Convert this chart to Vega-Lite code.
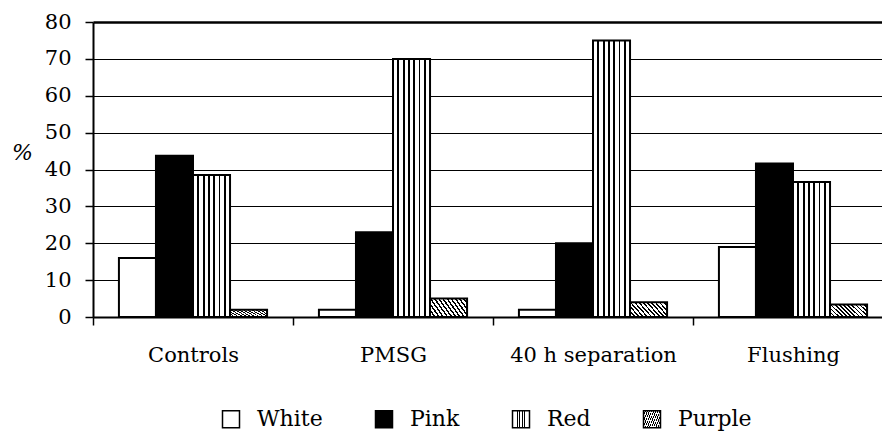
{
  "$schema": "https://vega.github.io/schema/vega-lite/v6.json",
  "width": 789,
  "height": 295,
  "autosize": {"type": "none"},
  "padding": {"left": 93, "top": 22, "right": 0, "bottom": 119},
  "background": "white",
  "config": {
    "view": {"stroke": null},
    "font": "DejaVu Serif"
  },
  "data": {
    "values": [
      {"group": "Controls", "color": "White", "pct": 16},
      {"group": "Controls", "color": "Pink", "pct": 43.7},
      {"group": "Controls", "color": "Red", "pct": 38.5},
      {"group": "Controls", "color": "Purple", "pct": 2},
      {"group": "PMSG", "color": "White", "pct": 2},
      {"group": "PMSG", "color": "Pink", "pct": 23},
      {"group": "PMSG", "color": "Red", "pct": 70},
      {"group": "PMSG", "color": "Purple", "pct": 5},
      {"group": "40 h separation", "color": "White", "pct": 2},
      {"group": "40 h separation", "color": "Pink", "pct": 20},
      {"group": "40 h separation", "color": "Red", "pct": 75},
      {"group": "40 h separation", "color": "Purple", "pct": 4},
      {"group": "Flushing", "color": "White", "pct": 19},
      {"group": "Flushing", "color": "Pink", "pct": 41.6},
      {"group": "Flushing", "color": "Red", "pct": 36.6},
      {"group": "Flushing", "color": "Purple", "pct": 3.4}
    ]
  },
  "mark": {"type": "bar", "stroke": "black", "strokeWidth": 2},
  "encoding": {
    "x": {
      "field": "group",
      "type": "nominal",
      "sort": ["Controls", "PMSG", "40 h separation", "Flushing"],
      "scale": {"range": [0, 800], "paddingInner": 0, "paddingOuter": 0},
      "axis": {
        "title": null,
        "labelAngle": 0,
        "labelFont": "DejaVu Serif",
        "labelFontSize": 21,
        "labelColor": "black",
        "labelPadding": 19,
        "tickBand": "extent",
        "tickSize": 8,
        "tickColor": "black",
        "tickWidth": 1.5,
        "domainColor": "black",
        "domainWidth": 2,
        "grid": false
      }
    },
    "xOffset": {
      "field": "color",
      "type": "nominal",
      "sort": ["White", "Pink", "Red", "Purple"],
      "scale": {"paddingInner": 0, "paddingOuter": 0.7}
    },
    "y": {
      "field": "pct",
      "type": "quantitative",
      "scale": {"domain": [0, 80], "nice": false},
      "axis": {
        "title": "%",
        "titleFont": "DejaVu Serif",
        "titleAngle": 0,
        "titleFontStyle": "italic",
        "titleFontWeight": "normal",
        "titleFontSize": 22,
        "titleColor": "black",
        "titleX": -71,
        "titleY": 130,
        "titleAlign": "center",
        "titleBaseline": "middle",
        "values": [0, 10, 20, 30, 40, 50, 60, 70, 80],
        "labelFont": "DejaVu Serif",
        "labelFontSize": 21,
        "labelColor": "black",
        "labelPadding": 14,
        "tickSize": 8,
        "tickColor": "black",
        "tickWidth": 1.5,
        "domainColor": "black",
        "domainWidth": 2,
        "grid": true,
        "gridColor": "black",
        "gridOpacity": 1,
        "gridWidth": {"condition": {"test": "datum.value == 80", "value": 2.5}, "value": 1.2}
      }
    },
    "fill": {
      "field": "color",
      "type": "nominal",
      "sort": ["White", "Pink", "Red", "Purple"],
      "scale": {
        "domain": ["White", "Pink", "Red", "Purple"],
        "range": [
          "white",
          "black",
          {"expr": "{gradient: 'linear', x1: 0, y1: 0, x2: 1, y2: 0, stops: [{offset: 0, color: 'white'}, {offset: 0.118, color: 'white'}, {offset: 0.118, color: 'black'}, {offset: 0.168, color: 'black'}, {offset: 0.168, color: 'white'}, {offset: 0.261, color: 'white'}, {offset: 0.261, color: 'black'}, {offset: 0.311, color: 'black'}, {offset: 0.311, color: 'white'}, {offset: 0.404, color: 'white'}, {offset: 0.404, color: 'black'}, {offset: 0.454, color: 'black'}, {offset: 0.454, color: 'white'}, {offset: 0.546, color: 'white'}, {offset: 0.546, color: 'black'}, {offset: 0.596, color: 'black'}, {offset: 0.596, color: 'white'}, {offset: 0.689, color: 'white'}, {offset: 0.689, color: 'black'}, {offset: 0.739, color: 'black'}, {offset: 0.739, color: 'white'}, {offset: 0.832, color: 'white'}, {offset: 0.832, color: 'black'}, {offset: 0.882, color: 'black'}, {offset: 0.882, color: 'white'}, {offset: 1, color: 'white'}]}"},
          {"expr": "{gradient: 'linear', x1: 0, y1: 1, x2: 1.2, y2: 0.58, stops: [{offset: 0, color: 'black'}, {offset: 0.035, color: 'black'}, {offset: 0.035, color: 'white'}, {offset: 0.0833, color: 'white'}, {offset: 0.0833, color: 'black'}, {offset: 0.1183, color: 'black'}, {offset: 0.1183, color: 'white'}, {offset: 0.1667, color: 'white'}, {offset: 0.1667, color: 'black'}, {offset: 0.2017, color: 'black'}, {offset: 0.2017, color: 'white'}, {offset: 0.25, color: 'white'}, {offset: 0.25, color: 'black'}, {offset: 0.285, color: 'black'}, {offset: 0.285, color: 'white'}, {offset: 0.3333, color: 'white'}, {offset: 0.3333, color: 'black'}, {offset: 0.3683, color: 'black'}, {offset: 0.3683, color: 'white'}, {offset: 0.4167, color: 'white'}, {offset: 0.4167, color: 'black'}, {offset: 0.4517, color: 'black'}, {offset: 0.4517, color: 'white'}, {offset: 0.5, color: 'white'}, {offset: 0.5, color: 'black'}, {offset: 0.535, color: 'black'}, {offset: 0.535, color: 'white'}, {offset: 0.5833, color: 'white'}, {offset: 0.5833, color: 'black'}, {offset: 0.6183, color: 'black'}, {offset: 0.6183, color: 'white'}, {offset: 0.6667, color: 'white'}, {offset: 0.6667, color: 'black'}, {offset: 0.7017, color: 'black'}, {offset: 0.7017, color: 'white'}, {offset: 0.75, color: 'white'}, {offset: 0.75, color: 'black'}, {offset: 0.785, color: 'black'}, {offset: 0.785, color: 'white'}, {offset: 0.8333, color: 'white'}, {offset: 0.8333, color: 'black'}, {offset: 0.8683, color: 'black'}, {offset: 0.8683, color: 'white'}, {offset: 0.9167, color: 'white'}, {offset: 0.9167, color: 'black'}, {offset: 0.9517, color: 'black'}, {offset: 0.9517, color: 'white'}, {offset: 1, color: 'white'}]}"}
        ]
      },
      "legend": {
        "orient": "none",
        "legendX": 127,
        "legendY": 386,
        "direction": "horizontal",
        "columns": 4,
        "title": null,
        "symbolType": "square",
        "symbolSize": 289,
        "symbolStrokeColor": "black",
        "symbolStrokeWidth": 1.5,
        "labelFont": "DejaVu Serif",
        "labelFontSize": 22,
        "labelColor": "black",
        "labelOffset": 15,
        "columnPadding": 49
      }
    }
  }
}
